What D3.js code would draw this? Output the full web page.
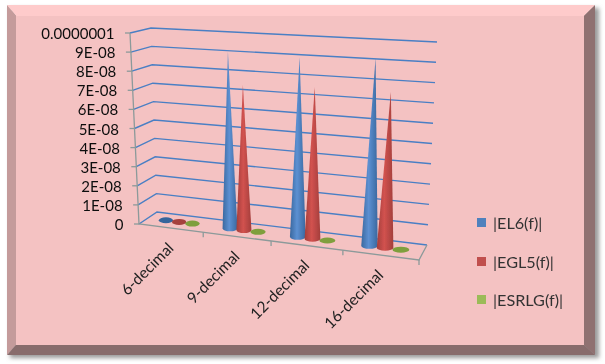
<!DOCTYPE html>
<html>
<head>
<meta charset="utf-8">
<script src="https://cdn.jsdelivr.net/npm/d3@7"></script>
<style>
html, body { margin: 0; padding: 0; background: #fff; }
svg { display: block; }
text { font-family: Lato, "Open Sans", sans-serif; }
</style>
</head>
<body>
<div id="chart"></div>
<script>
const categories = ["6-decimal", "9-decimal", "12-decimal", "16-decimal"]
const seriesNames = ["|EL6(f)|", "|EGL5(f)|", "|ESRLG(f)|"]
const el6 = [0, 9.13e-8, 9.09e-8, 9.26e-8]
const egl5 = [0, 7.47e-8, 7.63e-8, 7.64e-8]
const esrlg = [0, 0, 0, 0]
const tickValues = [0, 1e-8, 2e-8, 3e-8, 4e-8, 5e-8, 6e-8, 7e-8, 8e-8, 9e-8, 1e-7]
const tickLabels = ["0", "1E-08", "2E-08", "3E-08", "4E-08", "5E-08", "6E-08", "7E-08", "8E-08", "9E-08", "0.0000001"]
const seriesValues = [el6, egl5, esrlg]

const W = 605, H = 364

const svg = d3.select("#chart").append("svg").attr("width", W).attr("height", H)
const defs = svg.append("defs")

// Cadre biseauté
defs.append("filter").attr("id", "shadow")
  .attr("x", "-5%").attr("y", "-5%").attr("width", "110%").attr("height", "110%")
  .append("feGaussianBlur").attr("stdDeviation", 2.2)

// Léger flou : l'image d'origine est un peu floue
defs.append("filter").attr("id", "soft")
  .attr("filterUnits", "userSpaceOnUse")
  .attr("x", 0).attr("y", 0).attr("width", W).attr("height", H)
  .append("feGaussianBlur").attr("stdDeviation", 0.4)

svg.append("rect").attr("x", 10).attr("y", 8).attr("width", 589).attr("height", 350)
  .attr("fill", "#9a9a9a").attr("filter", "url(#shadow)")

const outer = { l: 7, t: 5, r: 595, b: 355 }
const inner = { l: 16, t: 16, r: 584, b: 345 }
const bevel = [
  { c: "#fecbcb", p: [[outer.l, outer.t], [outer.r, outer.t], [inner.r, inner.t], [inner.l, inner.t]] },
  { c: "#c49b9b", p: [[outer.l, outer.t], [inner.l, inner.t], [inner.l, inner.b], [outer.l, outer.b]] },
  { c: "#8f7171", p: [[outer.r, outer.t], [outer.r, outer.b], [inner.r, inner.b], [inner.r, inner.t]] },
  { c: "#886c6c", p: [[outer.l, outer.b], [inner.l, inner.b], [inner.r, inner.b], [outer.r, outer.b]] },
]
svg.selectAll("polygon.bevel").data(bevel).join("polygon")
  .attr("class", "bevel")
  .attr("points", (d) => d.p.join(" "))
  .attr("fill", (d) => d.c)
svg.append("rect")
  .attr("x", inner.l).attr("y", inner.t)
  .attr("width", inner.r - inner.l).attr("height", inner.b - inner.t)
  .attr("fill", "#f4c2c2")

const plot = svg.append("g").attr("filter", "url(#soft)")

// Boîte 3D : u gauche-droite, v avant-arrière, w bas-haut
const box = {
  fl0: [139, 224], fr0: [419, 260], bl0: [157, 212], br0: [427, 245],
  fl1: [130, 33], fr1: [429, 50], bl1: [151, 28], br1: [437, 42],
}
const persp = 1.12
const warp = (u) => u / (u + persp * (1 - u))
const mix = (a, b, t) => [a[0] + (b[0] - a[0]) * t, a[1] + (b[1] - a[1]) * t]
function project(u, v, w) {
  const t = warp(u)
  const bottom = mix(mix(box.fl0, box.fr0, t), mix(box.bl0, box.br0, t), v)
  const top = mix(mix(box.fl1, box.fr1, t), mix(box.bl1, box.br1, t), v)
  return mix(bottom, top, w)
}

// Échelles
const x0 = d3.scaleBand().domain(categories).range([0, 1])
const y = d3.scaleLinear().domain([0, 1e-7]).range([0, 1])
const x1 = d3.scalePoint().domain(seriesNames).range([-0.0525, 0.0525])
const line = d3.line()

// Grille : paroi gauche puis paroi du fond
const grid = plot.append("g").attr("fill", "none").attr("stroke", "#4a7fc4").attr("stroke-width", 1.4)
tickValues.forEach((t) => {
  grid.append("path").attr("d", line([project(0, 0, y(t)), project(0, 1, y(t)), project(1, 1, y(t))]))
})

// Axes gris
const axis = plot.append("g").attr("fill", "none").attr("stroke", "#8c9a9a").attr("stroke-width", 1.3)
axis.append("path").attr("d", line([project(0, 0, 1), project(0, 0, 0), project(1, 0, 0), project(1, 1, 0)]))
tickValues.forEach((t) => {
  const p = project(0, 0, y(t))
  axis.append("path").attr("d", line([[p[0] - 5, p[1]], p]))
})
d3.range(1, categories.length + 1).forEach((i) => {
  const p = project(i / categories.length, 0, 0)
  axis.append("path").attr("d", line([p, [p[0], p[1] + 5]]))
})

// Labels de l'axe Y
plot.append("g").selectAll("text").data(tickValues).join("text")
  .attr("x", (t) => project(0, 0, y(t))[0] - 15.5)
  .attr("y", (t) => project(0, 0, y(t))[1] + 6)
  .attr("text-anchor", "end")
  .attr("font-size", 15)
  .attr("fill", "#111")
  .text((t, i) => tickLabels[i])

// Labels de l'axe X
plot.append("g").selectAll("text").data(categories).join("text")
  .attr("transform", (c) => {
    const p = project(x0(c) + x0.bandwidth() / 2, 0, 0)
    return `translate(${p[0] + 4},${p[1] + 21}) rotate(-45)`
  })
  .attr("text-anchor", "end")
  .attr("font-size", 15.5)
  .attr("fill", "#222")
  .text((c) => c)

// Dégradés des cônes
const coneColors = [
  { dark: "#3a689f", light: "#5c90d2", disc: "#34659c" },
  { dark: "#a33e3b", light: "#d2524f", disc: "#a5403d" },
  { dark: "#7f9f3d", light: "#9bbb59", disc: "#7f9f3d" },
]
coneColors.forEach((c, i) => {
  const grad = defs.append("linearGradient").attr("id", `cone${i}`)
  grad.append("stop").attr("offset", "0%").attr("stop-color", c.dark)
  grad.append("stop").attr("offset", "45%").attr("stop-color", c.light)
  grad.append("stop").attr("offset", "100%").attr("stop-color", c.dark)
})

// Cônes : la base s'élargit avec la perspective
const ry = 3
const cones = plot.append("g")
seriesNames.forEach((name, s) => {
  categories.forEach((cat, i) => {
    const u = x0(cat) + x0.bandwidth() / 2 + x1(name)
    const base = project(u, 0.5, 0)
    const rx = 7 + warp(u) * 1.5
    const value = seriesValues[s][i]
    if (value > 0) {
      const apex = project(u, 0.5, y(value))
      cones.append("path")
        .attr("d", `M${apex}L${base[0] - rx},${base[1]}A${rx},${ry} 0 0 0 ${base[0] + rx},${base[1]}Z`)
        .attr("fill", `url(#cone${s})`)
    } else {
      cones.append("ellipse")
        .attr("cx", base[0]).attr("cy", base[1])
        .attr("rx", rx).attr("ry", ry)
        .attr("fill", coneColors[s].disc)
    }
  })
})

// Légende
const legendColors = ["#4f81bd", "#c0504d", "#9bbb59"]
const legendY = [218, 257, 295]
const legend = plot.append("g")
seriesNames.forEach((name, i) => {
  legend.append("rect").attr("x", 477).attr("y", legendY[i]).attr("width", 9).attr("height", 9)
    .attr("fill", legendColors[i])
  legend.append("text").attr("x", 493).attr("y", legendY[i] + 11)
    .attr("font-size", 16.2).attr("fill", "#333")
    .text(name)
})
</script>
</body>
</html>
